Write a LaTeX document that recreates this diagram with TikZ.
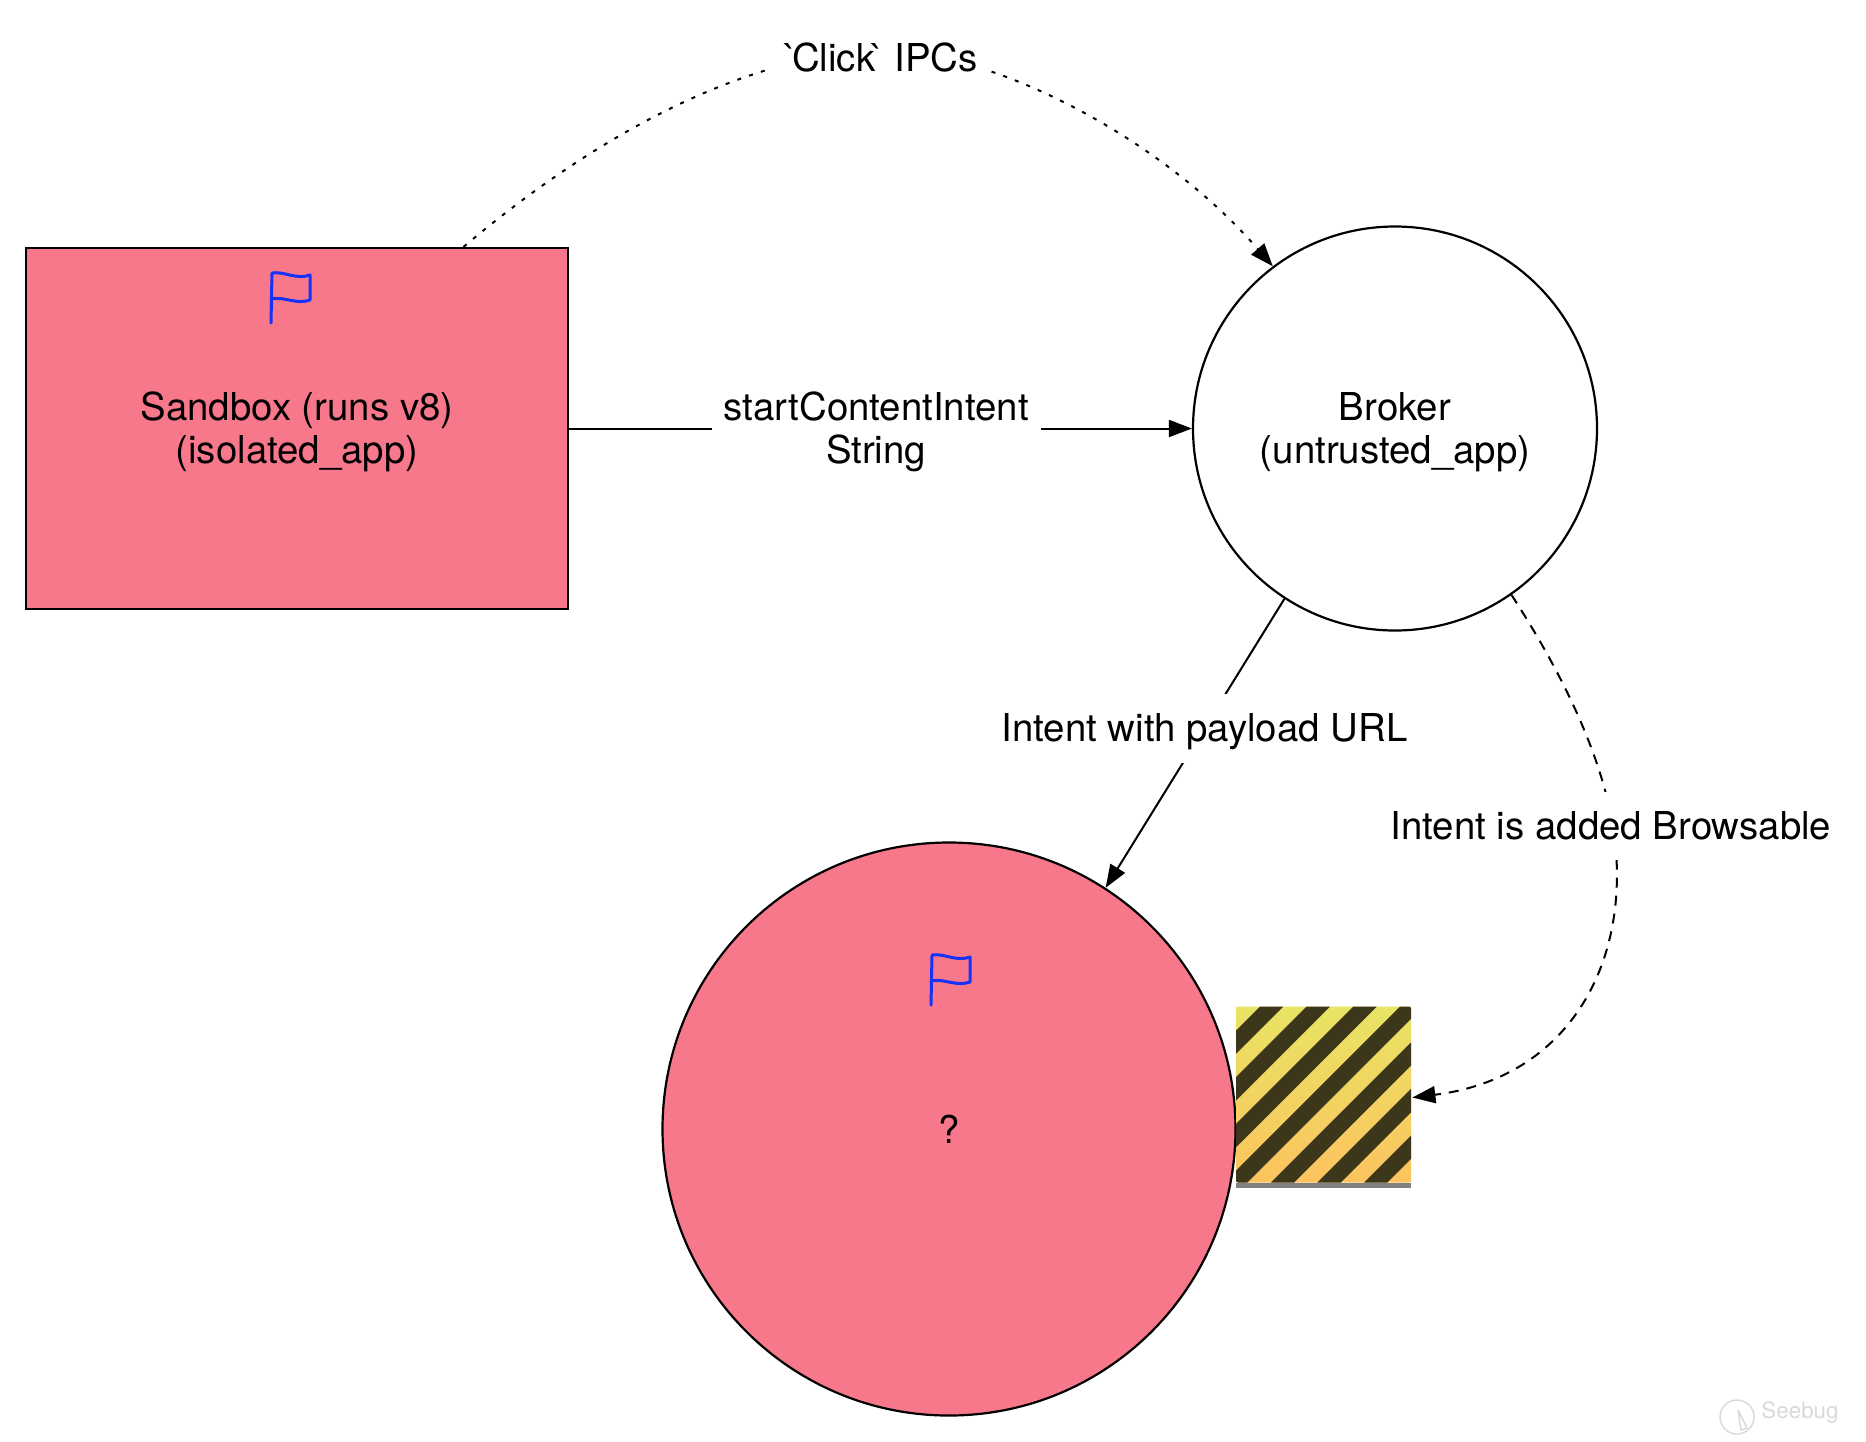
\documentclass[tikz,border=0pt]{standalone}
\usepackage{fontspec}
\setmainfont{TeX Gyre Heros}[Ligatures=TeXOff]
\usepackage{xcolor}
\definecolor{mypink}{RGB}{248,120,139}
\definecolor{myblue}{RGB}{20,50,250}
\definecolor{hazardtop}{RGB}{232,228,100}
\definecolor{hazardbottom}{RGB}{252,195,95}
\definecolor{hazarddark}{RGB}{60,54,26}
\usetikzlibrary{arrows.meta}
\usetikzlibrary{calc}
\newcommand{\difont}{\fontsize{19.2}{21.9}\selectfont}
\newcommand{\toplift}{\rule{0pt}{17.6pt}}
\newcommand{\widthsandbox}{271pt}
\newcommand{\heightsandbox}{180.5pt}
\newcommand{\sizebroker}{202pt}
\newcommand{\sizetarget}{286.5pt}
\newcommand{\widthhazard}{87.5pt}
\newcommand{\heighthazard}{88pt}
\tikzset{
    common/.style={draw, line width=1.1pt, align=center, inner sep=0pt, font=\difont},
    sandboxbox/.style={common, rectangle, fill=mypink, minimum width=\widthsandbox, minimum height=\heightsandbox},
    brokercircle/.style={common, circle, minimum size=\sizebroker},
    targetcircle/.style={common, circle, fill=mypink, minimum size=\sizetarget},
    lbl/.style={fill=white, align=center, inner sep=6pt, font=\difont},
    flow/.style={line width=1pt, -{Triangle[length=11.5pt, width=8.5pt]}},
    dottedflow/.style={flow, dash pattern=on 2pt off 4.2pt},
    dashedflow/.style={flow, dash pattern=on 5pt off 4pt},
    flagicon/.pic={
        \draw[myblue, line width=1.5pt, line cap=round, line join=round]
            (0,0) .. controls (12,-2) and (24,7) .. (38,2)
            -- (38,27)
            .. controls (24,32) and (12,23) .. (-1,26)
            (0,0) -- (-1,50);
    },
    hazardstripes/.style={
        path picture={
            \foreach \k in {0,...,6} {
                \draw[hazarddark, line width=8.25pt]
                    (path picture bounding box.north west) ++({35.7+46.67*\k+20},-20) -- ++(-240,240);
            }
        }
    }
}

\begin{document}
\begin{tikzpicture}[x=.5pt, y=-.5pt]
    \useasboundingbox (0,0) rectangle (1866,1441);

    \node[sandboxbox] (sandbox) at (297,428.5) {\toplift Sandbox (runs v8)\\(isolated\_app)};
    \node[brokercircle] (broker) at (1395,428.5) {\toplift Broker\\(untrusted\_app)};
    \node[targetcircle] (target) at (949,1129) {?};
    \node[rectangle, rounded corners=1pt, inner sep=0pt, top color=hazardtop, bottom color=hazardbottom,
        minimum width=\widthhazard, minimum height=\heighthazard, hazardstripes] (hazard) at (1323.5,1094.5) {};
    \fill[gray] ([yshift=.2pt]hazard.south west) rectangle ([yshift=-2.4pt]hazard.south east);

    \path (272,273) pic {flagicon};
    \path (932,955) pic {flagicon};

    \draw[dottedflow] ($(sandbox.north west)!.806!(sandbox.north east)$)
        .. controls (590,140) and (740,55) .. (881,50) node[lbl, yshift=-3.5pt] (clicklabel) {`\kern-2.4pt Click\kern-2.2pt` IPCs}
        .. controls (1000,52) and (1165,142) .. (broker.127);
    \draw[flow] (sandbox.east) -- node[lbl, pos=.493] (startlabel) {\toplift startContentIntent\\String} (broker.west);
    \draw[flow] (broker.237.6) -- node[lbl, pos=.447, minimum height=34.5pt, text depth=.5pt] (intentlabel) {Intent with payload URL} (target.57.6);
    \draw[dashedflow] (broker.-55)
        .. controls (1560,670) and (1600,750) .. (1613,826) node[lbl, minimum height=34pt, xshift=-1pt] (browsablelabel) {Intent is added Browsable}
        .. controls (1634,960) and (1570,1078) .. ([xshift=.5pt, yshift=-1.5pt]hazard.east);

    % watermark
    \node[text=black!15, font=\fontsize{11.2}{13}\selectfont, inner sep=0pt] (seebug) at (1800,1413) {Seebug};
    \node[draw=black!15, circle, line width=.7pt, minimum size=17pt, inner sep=0pt] (seebugicon) at (1737,1417) {};
    \draw[black!15, line width=.7pt, line join=round] (1738,1410) -- (1747,1428) -- (1741,1430) -- cycle;
\end{tikzpicture}
\end{document}
